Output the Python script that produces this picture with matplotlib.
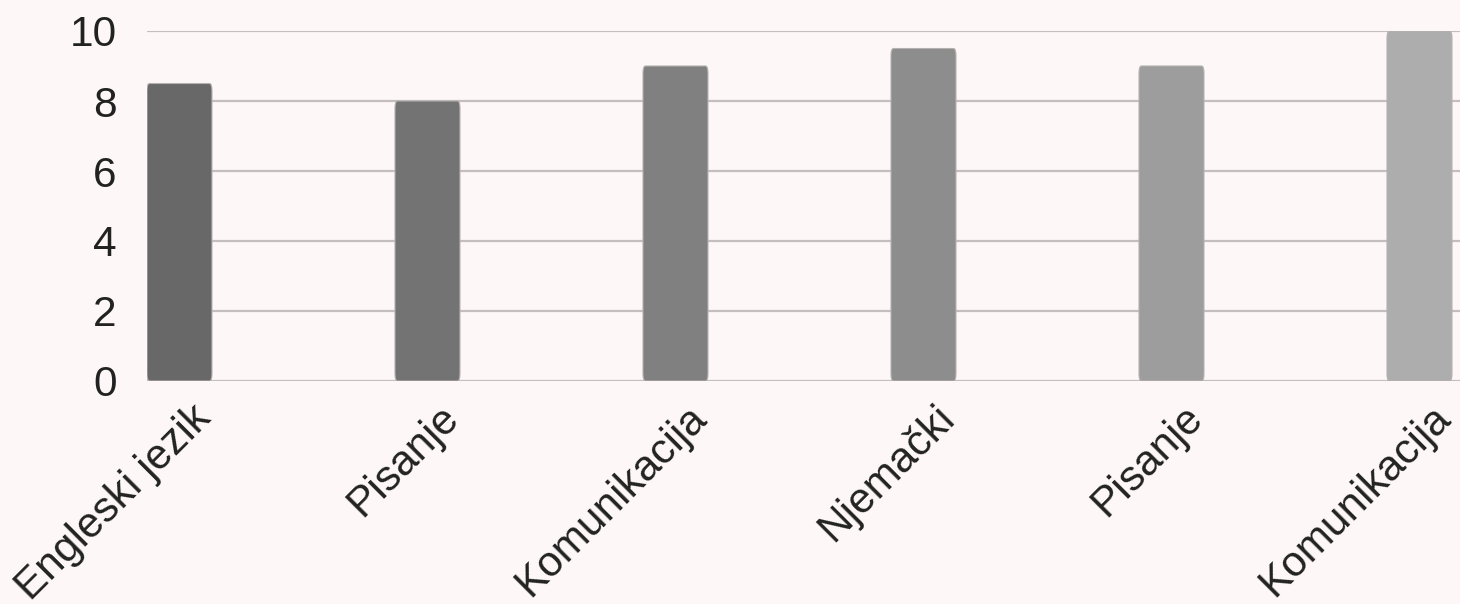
import matplotlib.pyplot as plt
from matplotlib.patches import FancyBboxPatch

categories = ['Engleski jezik', 'Pisanje', 'Komunikacija', 'Njemački', 'Pisanje', 'Komunikacija']
values = [8.5, 8, 9, 9.5, 9, 10]
bar_colors = ['#686868', '#737373', '#808080', '#8d8d8d', '#9d9d9d', '#adadad']
yticks = [0, 2, 4, 6, 8, 10]

plt.rcParams['font.family'] = ['Liberation Sans', 'DejaVu Sans']

bg = '#fdf8f7'
fig = plt.figure(figsize=(14.6, 6.04), dpi=100, facecolor=bg)
ax = fig.add_axes([147 / 1460, 223 / 604, 1488 / 1460, 350 / 604])
ax.set_facecolor(bg)

width = 0.262
for i, (v, c) in enumerate(zip(values, bar_colors)):
    patch = FancyBboxPatch((i, 0), width, v,
                           boxstyle='round,pad=0,rounding_size=0.01',
                           mutation_aspect=20,
                           facecolor=c, edgecolor='#b5b1b0', linewidth=0.8, zorder=3)
    ax.add_patch(patch)

ax.set_xlim(0, 6)
ax.set_ylim(0, 10)
ax.set_yticks(yticks)
ax.yaxis.grid(True, color='#c4bfbe', linewidth=1.6, zorder=0)
ax.set_axisbelow(True)
for s in ax.spines.values():
    s.set_visible(False)

# label ends sit at the right edge of each bar
ax.set_xticks([i + width - 0.088 for i in range(len(categories))])
ax.set_xticklabels(categories, rotation=45, ha='right', va='top', rotation_mode='anchor')
ax.tick_params(axis='both', length=0, labelsize=30.5, colors='#222222')
ax.tick_params(axis='y', pad=22)
ax.tick_params(axis='x', pad=12)

fig.savefig('out.png', dpi=100, facecolor=bg)
